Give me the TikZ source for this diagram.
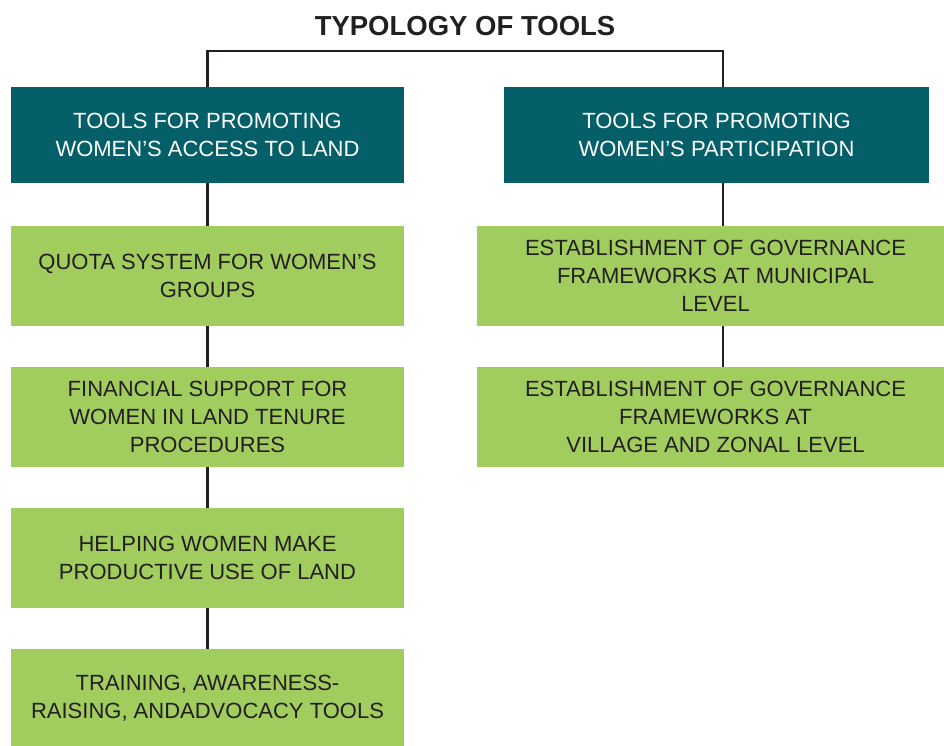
\documentclass[tikz,border=0pt]{standalone}
\usepackage{fontspec}
\setmainfont{Liberation Sans}
\definecolor{teal1}{HTML}{055F68}
\definecolor{green1}{HTML}{A1CC5E}
\definecolor{ink}{HTML}{231F20}
\begin{document}
\begin{tikzpicture}[x=1pt,y=-1pt,
  headbox/.style={rectangle, fill=teal1, text=white, inner sep=0pt, align=center,
    font=\fontsize{22}{28.3}\selectfont},
  itembox/.style={rectangle, fill=green1, text=ink, inner sep=0pt, align=center,
    font=\fontsize{22}{28.3}\selectfont},
  link/.style={draw=ink, line width=2.6pt}]
\useasboundingbox (0,0) rectangle (944,746);
\node[font=\fontsize{27.5}{30}\selectfont\bfseries, text=ink] (title) at (465,26) {TYPOLOGY OF TOOLS};
\node[headbox, minimum width=393pt, minimum height=96pt] (tl) at (207.5,135) {TOOLS FOR PROMOTING\\WOMEN’S ACCESS TO LAND};
\node[headbox, minimum width=425pt, minimum height=96pt] (tr) at (716.5,135) {TOOLS FOR PROMOTING\\WOMEN’S PARTICIPATION};
\node[itembox, minimum width=393pt, minimum height=100pt] (l1) at (207.5,276) {QUOTA SYSTEM FOR WOMEN’S\\GROUPS};
\node[itembox, minimum width=393pt, minimum height=100pt] (l2) at (207.5,417) {FINANCIAL SUPPORT FOR\\WOMEN IN LAND TENURE\\PROCEDURES};
\node[itembox, minimum width=393pt, minimum height=100pt] (l3) at (207.5,558) {HELPING WOMEN MAKE\\PRODUCTIVE USE OF LAND};
\node[itembox, minimum width=393pt, minimum height=98pt] (l4) at (207.5,698) {TRAINING, AWARENESS-\\RAISING, ANDADVOCACY TOOLS};
\node[itembox, minimum width=467pt, minimum height=100pt] (r1) at (710.5,276) {\hspace*{10pt}ESTABLISHMENT OF GOVERNANCE\\\hspace*{10pt}FRAMEWORKS AT MUNICIPAL\\\hspace*{10pt}LEVEL};
\node[itembox, minimum width=467pt, minimum height=100pt] (r2) at (710.5,417) {\hspace*{10pt}ESTABLISHMENT OF GOVERNANCE\\\hspace*{10pt}FRAMEWORKS AT\\\hspace*{10pt}VILLAGE AND ZONAL LEVEL};
\coordinate (rx) at (723,51);
\draw[link] (tl.north) |- (rx) -- (rx |- tr.north);
\draw[link] (tl.south) -- (l1.north);
\draw[link] (l1.south) -- (l2.north);
\draw[link] (l2.south) -- (l3.north);
\draw[link] (l3.south) -- (l4.north);
\draw[link] (rx |- tr.south) -- (rx |- r1.north);
\draw[link] (rx |- r1.south) -- (rx |- r2.north);
\end{tikzpicture}
\end{document}
